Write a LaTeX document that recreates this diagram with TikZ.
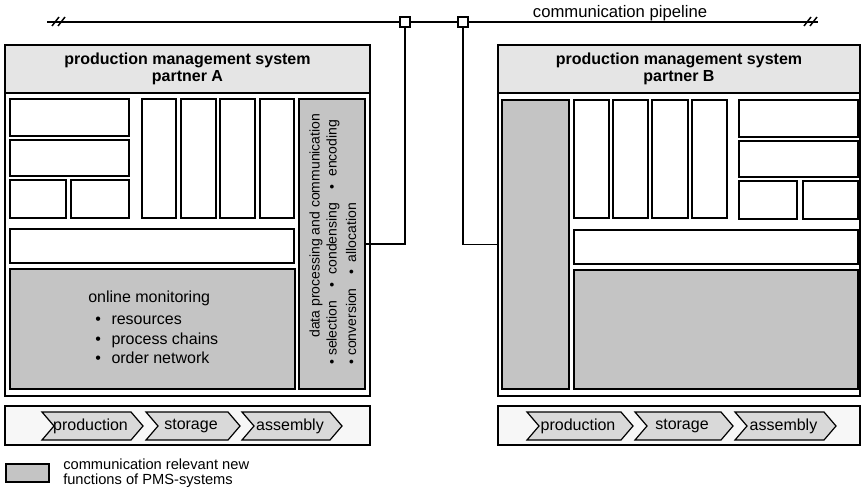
\documentclass[tikz,border=0pt]{standalone}
\usepackage{fontspec}
\setmainfont{Liberation Sans}
\usetikzlibrary{fit,calc}

% chevron: #1 name, #2 left x, #3 right x (tip), #4 label
\newcommand\chevron[4]{%
  \draw[chevbox] (#2,412) -- ({#3-12},412) -- (#3,426) -- ({#3-12},440)
    -- (#2,440) -- ({#2+12},426) -- cycle;
  \node[chevtext] (#1) at ({(#2+#3)/2-2},426) {#4};
}
% plain box from two corners
\newcommand\panel[4][inbox]{%
  \node[#1, fit={#3 #4}] (#2) {};
}
% separator between bulleted items in the rotated text
\newcommand\sep{\hspace{10pt}\textbullet\hspace{6pt}}

\begin{document}
\begin{tikzpicture}[x=0.75pt,y=-0.75pt,
  outbox/.style={draw, line width=1.5pt, inner sep=0pt},
  inbox/.style={draw, line width=1.1pt, fill=white, inner sep=0pt},
  newfn/.style={inbox, fill=black!23},
  headbox/.style={outbox, line width=1.3pt, fill=black!10},
  barbox/.style={draw, line width=0.9pt, fill=black!3, inner sep=0pt},
  chevbox/.style={draw, line width=0.9pt, fill=black!15, line join=miter},
  chevtext/.style={font=\fontsize{12}{13}\selectfont, inner sep=0pt},
  headtext/.style={font=\fontsize{12}{12.5}\selectfont\bfseries, align=center},
  montext/.style={font=\fontsize{12}{13}\selectfont, anchor=base west, inner sep=0pt},
  vtext/.style={font=\fontsize{10.5}{11}\selectfont, rotate=90, anchor=west, inner sep=0pt},
  port/.style={draw, line width=0.9pt, fill=white, minimum size=7.5pt, inner sep=0pt},
  pipe/.style={line width=1.1pt},
  link/.style={line width=1.1pt}]
\useasboundingbox (0,0) rectangle (861,489);

% ---------------- partner A ----------------
\panel[outbox]{pmsA}{(5,45)}{(370,396)}
\panel[headbox]{headA}{(5,45)}{(370,93)}
\node[headtext] (headAtxt) at (headA.center) {production management system\\partner A};

\panel{a1}{(10,99)}{(129,136)}
\panel{a2}{(10,140)}{(129,176)}
\panel{a3}{(10,180)}{(66,218)}
\panel{a4}{(71,180)}{(129,218)}
\panel{av1}{(142,99)}{(176,218)}
\panel{av2}{(181,99)}{(216,218)}
\panel{av3}{(220,99)}{(255,218)}
\panel{av4}{(260,99)}{(294,218)}
\panel{awide}{(10,229)}{(294,263)}
\panel[newfn]{amon}{(10,269)}{(295,389)}
\panel[newfn]{adp}{(299,99)}{(365,389)}

\node[montext] (mon0) at (88,302) {online monitoring};
\node[montext] (mon1) at (95,324) {\textbullet\hspace{8pt}resources};
\node[montext] (mon2) at (95,344) {\textbullet\hspace{8pt}process chains};
\node[montext] (mon3) at (95,363) {\textbullet\hspace{8pt}order network};

\node[vtext] (dp1) at (316,338) {data processing and communication};
\node[vtext] (dp2) at (333,365) {\textbullet\ selection\sep condensing\sep encoding};
\node[vtext] (dp3) at (351,365) {\textbullet\ conversion\sep allocation};

% ---------------- partner B ----------------
\panel[outbox]{pmsB}{(498,45)}{(860,396)}
\panel[headbox]{headB}{(498,45)}{(860,93)}
\node[headtext] (headBtxt) at (headB.center) {production management system\\partner B};

\panel[newfn]{bcol}{(502,100)}{(569,389)}
\panel{bv1}{(574,100)}{(609,218)}
\panel{bv2}{(613,100)}{(648,218)}
\panel{bv3}{(652,100)}{(688,218)}
\panel{bv4}{(692,100)}{(727,218)}
\panel{b1}{(739,100)}{(858,137)}
\panel{b2}{(739,141)}{(858,177)}
\panel{b3}{(739,181)}{(797,219)}
\panel{b4}{(803,181)}{(858,219)}
\panel{bwide}{(574,230)}{(858,264)}
\panel[newfn]{bbig}{(574,270)}{(858,389)}

% ---------------- process chains ----------------
\panel[barbox]{barA}{(5,406)}{(370,445)}
\chevron{prodA}{42}{143}{production}
\chevron{storA}{146}{240}{storage}
\chevron{assyA}{242}{342}{assembly}

\panel[barbox]{barB}{(498,406)}{(860,445)}
\chevron{prodB}{527}{633}{production}
\chevron{storB}{635}{733}{storage}
\chevron{assyB}{735}{836}{assembly}

% ---------------- communication pipeline ----------------
\coordinate (pL) at (47,22);
\coordinate (pR) at (818,22);
\node[port] (sqA) at (405,22) {};
\node[port] (sqB) at (463,22) {};
\draw[pipe] (pL) -- (sqA.west) (sqA.east) -- (sqB.west) (sqB.east) -- (pR);
\draw[pipe] (52,26) -- (59,17) (58,26) -- (65,17);
\draw[pipe] (804,26) -- (811,17) (810,26) -- (817,17);
\node[font=\fontsize{12.5}{13}\selectfont, inner sep=0pt] (pipetxt) at (620,13) {communication pipeline};

\draw[link] (adp.east) -| (sqA.south);
\draw[link] (sqB.south) |- (bcol.west -| pmsB.west);

% ---------------- legend ----------------
\panel[newfn]{key}{(6,464)}{(49,482)}
\node[anchor=west, align=left, font=\fontsize{11}{11.5}\selectfont, inner sep=0pt]
  (keytxt) at (63,473) {communication relevant new\\functions of PMS-systems};
\end{tikzpicture}
\end{document}
